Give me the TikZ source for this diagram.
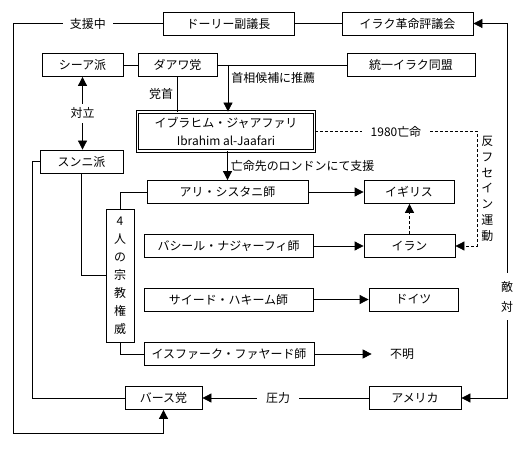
\documentclass[tikz,border=0pt]{standalone}
\usepackage{fontspec}
\setmainfont{Noto Sans CJK JP}
\usetikzlibrary{arrows.meta}

\begin{document}
\begin{tikzpicture}[x=1bp, y=-1bp, line width=0.8bp,
  every node/.style={font=\fontsize{12}{14}\selectfont, inner sep=0pt},
  box/.style={draw, minimum height=23bp},
  dbox/.style={draw, double, double distance=1.6bp, minimum height=39bp, align=center, font=\fontsize{12}{18}\selectfont},
  arr/.style={-{Triangle[length=9bp,width=9bp]}},
  arrs/.style={{Triangle[length=9bp,width=9bp]}-{Triangle[length=9bp,width=9bp]}},
  dsh/.style={dash pattern=on 3bp off 2bp},
  lbl/.style={fill=white, inner xsep=7bp, inner ysep=2bp}]
  \useasboundingbox (0,0) rectangle (525,454);

  \node[box, minimum width=131bp] (Doury) at (228.5,23.5) {ドーリー副議長};
  \node[box, minimum width=131bp] (RCC) at (407.5,23.5) {イラク革命評議会};
  \node[box, minimum width=81bp] (Shia) at (82.5,65) {シーア派};
  \node[box, minimum width=79bp] (Dawa) at (177.5,65) {ダアワ党};
  \node[box, minimum width=128bp] (UIA) at (411,65) {統一イラク同盟};
  \node[dbox, minimum width=177bp] (Jaafari) at (226,131.5) {イブラヒム・ジャアファリ\\Ibrahim al-Jaafari};
  \node[box, minimum width=83bp] (Sunni) at (81.5,161.5) {スンニ派};
  \node[box, minimum width=161bp] (Sistani) at (227.5,192) {アリ・シスタニ師};
  \node[box, minimum width=90bp] (UK) at (409,192) {イギリス};
  \node[box, minimum width=169bp] (Najafi) at (228.5,246) {バシール・ナジャーフィ師};
  \node[box, minimum width=91bp] (Iran) at (409.5,246) {イラン};
  \node[box, minimum width=169bp] (Hakim) at (228.5,299.5) {サイード・ハキーム師};
  \node[box, minimum width=89bp] (Germany) at (413.5,299.5) {ドイツ};
  \node[box, minimum width=170bp] (Fayad) at (229,354) {イスファーク・ファヤード師};
  \node (Unknown) at (402,354) {不明};
  \node[box, minimum width=28bp, minimum height=133bp, align=center, font=\fontsize{12}{18}\selectfont] (Four) at (120,275.5) {4\\人\\の\\宗\\教\\権\\威};
  \node[box, minimum width=77bp] (Baath) at (163.5,398) {バース党};
  \node[box, minimum width=92bp] (USA) at (415,398) {アメリカ};

  \coordinate (rec) at (228,65);
  \coordinate (exile) at (477,131.5);
  \coordinate (enemy) at (507,0);
  \coordinate (sl) at (32,0);
  \coordinate (spt) at (13,433);

  \draw (Doury) -- (RCC);
  \draw (Shia) -- (Dawa) -- (UIA);
  \draw (Dawa) -- (Dawa |- Jaafari.north) node[midway, left=4bp] {党首};
  \draw[arr] (rec) -- (rec |- Jaafari.north) node[pos=0.27, right=3bp] {首相候補に推薦};
  \draw[arrs] (Shia.south) -- (Shia.south |- Sunni.north) node[midway, lbl, inner xsep=2bp, inner ysep=4bp] {対立};
  \draw[arr] (Sistani.north |- Jaafari.south) -- (Sistani.north) node[midway, right=3bp] {亡命先のロンドンにて支援};

  \draw[dsh, arr] (Jaafari.east) -- (exile) node[midway, lbl, inner xsep=9bp] {1980亡命}
    |- (Iran.east) node[pos=0.25, right=4bp, align=center, font=\fontsize{12}{15.8}\selectfont] {反\\フ\\セ\\イ\\ン\\運\\動};
  \draw[dsh, arr] (Iran.north) -- (Iran.north |- UK.south);

  \draw[arr] (Sistani) -- (UK);
  \draw[arr] (Najafi) -- (Iran);
  \draw[arr] (Hakim) -- (Germany);
  \draw[arr, shorten >=18bp] (Fayad) -- (Unknown);

  \draw (Sunni.south) |- (Four.west);
  \draw (Four.north) |- (Sistani.west);
  \draw (Four.south) |- (Fayad.west);
  \draw (Sunni.west) -- (Sunni.west -| sl) |- (Baath.west);

  \draw[arr] (Doury.west) -- (Doury.west -| spt) node[midway, lbl] {支援中} -- (spt) -| (Baath.south);
  \draw[arr] (USA) -- (Baath) node[pos=0.545, lbl, inner xsep=9bp] {圧力};
  \draw[arrs] (RCC.east) -- (RCC.east -| enemy) -- (USA.east -| enemy)
    node[pos=0.73, lbl, inner xsep=3bp, inner ysep=8bp, align=center, font=\fontsize{12}{20}\selectfont] {敵\\対} -- (USA.east);
\end{tikzpicture}
\end{document}
